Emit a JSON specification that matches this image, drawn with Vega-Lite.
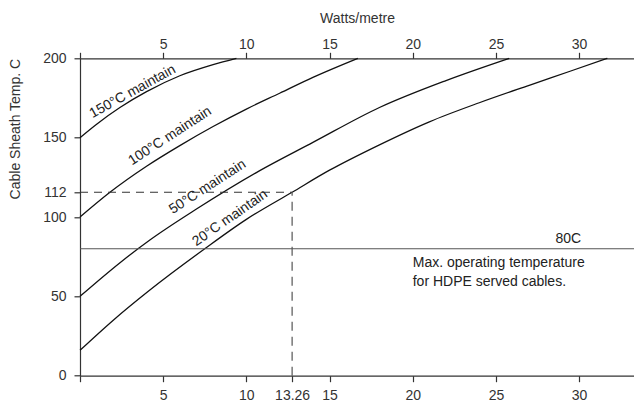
{
  "$schema": "https://vega.github.io/schema/vega-lite/v6.json",
  "width": 554,
  "height": 317.4,
  "autosize": "none",
  "padding": {"left": 80, "top": 58.3, "right": 0, "bottom": 29.3},
  "config": {
    "font": "Liberation Sans",
    "view": {"stroke": null},
    "axis": {
      "grid": false,
      "domainColor": "#333333",
      "tickColor": "#333333",
      "labelColor": "#333333",
      "titleColor": "#333333",
      "labelFontSize": 14,
      "titleFontSize": 14,
      "titleFontWeight": "normal",
      "tickSize": 6,
      "domainWidth": 1.2,
      "tickWidth": 1.2
    }
  },
  "datasets": {
    "curves": [
      {"series": "20", "W": 0, "T": 16},
      {"series": "20", "W": 2, "T": 35},
      {"series": "20", "W": 4.2, "T": 54},
      {"series": "20", "W": 7.5, "T": 80},
      {"series": "20", "W": 10, "T": 98.5},
      {"series": "20", "W": 12.75, "T": 115.6},
      {"series": "20", "W": 15, "T": 129.5},
      {"series": "20", "W": 18, "T": 145.5},
      {"series": "20", "W": 21, "T": 160},
      {"series": "20", "W": 24, "T": 172},
      {"series": "20", "W": 27, "T": 183},
      {"series": "20", "W": 29.5, "T": 192},
      {"series": "20", "W": 31.7, "T": 200},
      {"series": "50", "W": 0, "T": 50},
      {"series": "50", "W": 2.5, "T": 72},
      {"series": "50", "W": 4.2, "T": 85.5},
      {"series": "50", "W": 7, "T": 105},
      {"series": "50", "W": 10.6, "T": 128},
      {"series": "50", "W": 14, "T": 147},
      {"series": "50", "W": 18, "T": 169},
      {"series": "50", "W": 22, "T": 186},
      {"series": "50", "W": 25.8, "T": 200},
      {"series": "100", "W": 0, "T": 100},
      {"series": "100", "W": 1.8, "T": 115.6},
      {"series": "100", "W": 4, "T": 132},
      {"series": "100", "W": 6, "T": 145},
      {"series": "100", "W": 8, "T": 157},
      {"series": "100", "W": 10, "T": 168},
      {"series": "100", "W": 12, "T": 178},
      {"series": "100", "W": 14, "T": 188},
      {"series": "100", "W": 16.7, "T": 200},
      {"series": "150", "W": 0, "T": 150},
      {"series": "150", "W": 1, "T": 158.5},
      {"series": "150", "W": 2.4, "T": 169},
      {"series": "150", "W": 4, "T": 179},
      {"series": "150", "W": 6, "T": 189},
      {"series": "150", "W": 8, "T": 196},
      {"series": "150", "W": 9.4, "T": 200}
    ],
    "curveLabels": [
      {"label": "150°C maintain", "W": 3.16, "T": 179, "angle": -29},
      {"label": "100°C maintain", "W": 5.41, "T": 151, "angle": -33},
      {"label": "50°C maintain", "W": 7.67, "T": 119, "angle": -33},
      {"label": "20°C maintain", "W": 9.02, "T": 99.4, "angle": -35}
    ],
    "notes": [
      {"label": "Max. operating temperature", "W": 20.0, "T": 71.2},
      {"label": "for HDPE served cables.", "W": 20.0, "T": 59.2}
    ]
  },
  "resolve": {"axis": {"x": "independent", "y": "independent"}},
  "layer": [
    {
      "data": {"name": "curves"},
      "mark": {"type": "line", "interpolate": "monotone", "color": "#111111", "strokeWidth": 1.3},
      "encoding": {
        "x": {
          "field": "W", "type": "quantitative",
          "scale": {"domain": [0, 33.3], "nice": false, "zero": false},
          "axis": {
            "orient": "bottom", "title": null,
            "values": [0, 5, 10, 12.75, 15, 20, 25, 30],
            "labelExpr": "datum.value == 0 ? '' : (datum.value == 12.75 ? '13.26' : datum.label)",
            "labelPadding": 7
          }
        },
        "y": {
          "field": "T", "type": "quantitative",
          "scale": {"domain": [0, 200], "nice": false},
          "axis": {
            "orient": "left", "title": "Cable Sheath Temp. C",
            "titleAnchor": "end",
            "values": [0, 50, 100, 115.6, 150, 200],
            "labelExpr": "datum.value == 115.6 ? '112' : datum.label",
            "labelPadding": 8,
            "titlePadding": 20
          }
        },
        "detail": {"field": "series"}
      }
    },
    {
      "data": {"values": [{"W": 0, "W2": 33.3, "T": 80}]},
      "mark": {"type": "rule", "color": "#555555", "strokeWidth": 1.2},
      "encoding": {
        "x": {
          "field": "W", "type": "quantitative",
          "scale": {"domain": [0, 33.3], "nice": false, "zero": false},
          "axis": {
            "orient": "top", "title": "Watts/metre",
            "values": [0, 5, 10, 15, 20, 25, 30],
            "labelExpr": "datum.value == 0 ? '' : datum.label",
            "labelPadding": 1,
            "titlePadding": 12
          }
        },
        "x2": {"field": "W2"},
        "y": {"field": "T", "type": "quantitative", "scale": {"domain": [0, 200], "nice": false}, "axis": null}
      }
    },
    {
      "data": {"values": [{"W": 0, "W2": 12.75, "T": 115.6}]},
      "mark": {"type": "rule", "color": "#333333", "strokeWidth": 1.2, "strokeDash": [8, 6]},
      "encoding": {
        "x": {"field": "W", "type": "quantitative", "scale": {"domain": [0, 33.3], "nice": false, "zero": false}, "axis": null},
        "x2": {"field": "W2"},
        "y": {"field": "T", "type": "quantitative", "scale": {"domain": [0, 200], "nice": false}, "axis": null}
      }
    },
    {
      "data": {"values": [{"W": 12.75, "T": 0, "T2": 115.6}]},
      "mark": {"type": "rule", "color": "#555555", "strokeWidth": 1.2, "strokeDash": [9, 6]},
      "encoding": {
        "x": {"field": "W", "type": "quantitative", "scale": {"domain": [0, 33.3], "nice": false, "zero": false}, "axis": null},
        "y": {"field": "T", "type": "quantitative", "scale": {"domain": [0, 200], "nice": false}, "axis": null},
        "y2": {"field": "T2"}
      }
    },
    {
      "data": {"name": "curveLabels"},
      "mark": {"type": "text", "fontSize": 14, "color": "#222222", "align": "center", "baseline": "middle"},
      "encoding": {
        "x": {"field": "W", "type": "quantitative", "scale": {"domain": [0, 33.3], "nice": false, "zero": false}, "axis": null},
        "y": {"field": "T", "type": "quantitative", "scale": {"domain": [0, 200], "nice": false}, "axis": null},
        "text": {"field": "label"},
        "angle": {"field": "angle", "type": "quantitative", "scale": null}
      }
    },
    {
      "data": {"name": "notes"},
      "mark": {"type": "text", "fontSize": 14, "color": "#222222", "align": "left", "baseline": "middle"},
      "encoding": {
        "x": {"field": "W", "type": "quantitative", "scale": {"domain": [0, 33.3], "nice": false, "zero": false}, "axis": null},
        "y": {"field": "T", "type": "quantitative", "scale": {"domain": [0, 200], "nice": false}, "axis": null},
        "text": {"field": "label"}
      }
    },
    {
      "data": {"values": [{"label": "80C", "W": 29.35, "T": 86.1}]},
      "mark": {"type": "text", "fontSize": 14, "color": "#222222", "align": "center", "baseline": "middle"},
      "encoding": {
        "x": {"field": "W", "type": "quantitative", "scale": {"domain": [0, 33.3], "nice": false, "zero": false}, "axis": null},
        "y": {"field": "T", "type": "quantitative", "scale": {"domain": [0, 200], "nice": false}, "axis": null},
        "text": {"field": "label"}
      }
    }
  ]
}
